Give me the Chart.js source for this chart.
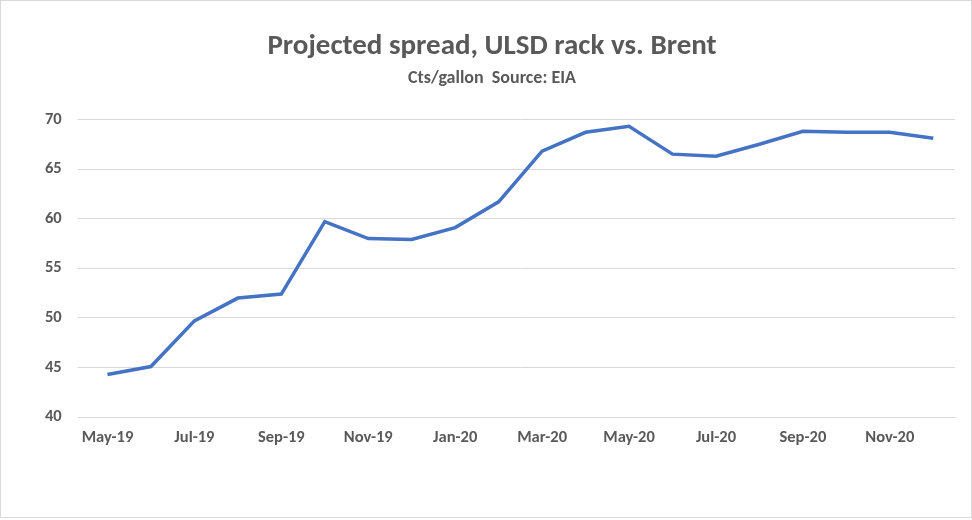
<!DOCTYPE html>
<html><head><meta charset="utf-8">
<script src="https://cdn.jsdelivr.net/npm/chart.js@4"></script>
<style>
html,body{margin:0;padding:0;background:#fff;}
#wrap{position:absolute;left:0;top:0;width:970px;height:516px;border:1px solid #d9d9d9;}
</style></head><body>
<div id="wrap"><canvas id="c"></canvas></div>
<script>
const months = ['May-19','Jun-19','Jul-19','Aug-19','Sep-19','Oct-19','Nov-19','Dec-19','Jan-20','Feb-20',
  'Mar-20','Apr-20','May-20','Jun-20','Jul-20','Aug-20','Sep-20','Oct-20','Nov-20','Dec-20'];
const spread = [44.3,45.1,49.7,52.0,52.4,59.7,58.0,57.9,59.1,61.7,66.8,68.7,69.3,66.5,66.3,67.5,68.8,68.7,68.7,68.1];
const yTicks = [40,45,50,55,60,65,70];

const grey = '#595959';
const font = 'Calibri, Carlito, "Open Sans", sans-serif';
new Chart(document.getElementById('c'), {
  type: 'line',
  data: { labels: months, datasets: [{ data: spread, borderColor: '#4472c4', borderWidth: 3.5, pointRadius: 0, tension: 0, fill: false }] },
  options: {
    responsive: true, maintainAspectRatio: false, animation: false,
    layout: { padding: { left: 28, right: 16, top: 0, bottom: 66 } },
    plugins: {
      legend: { display: false }, tooltip: { enabled: false },
      title: { display: true, text: 'Projected spread, ULSD rack vs. Brent', color: grey,
        font: { family: font, size: 29, weight: 'bold' }, padding: { top: 28, bottom: 4 } },
      subtitle: { display: true, text: 'Cts/gallon  Source: EIA', color: grey,
        font: { family: font, size: 18, weight: 'bold' }, padding: { bottom: 30 } }
    },
    scales: {
      x: { offset: true, grid: { display: false }, border: { color: '#d9d9d9' },
        ticks: { autoSkip: false, maxRotation: 0, color: grey, font: { family: font, size: 16.5, weight: 'bold' },
          callback: (v, i) => i % 2 === 0 ? months[i] : '' } },
      y: { min: 40, max: 70, grid: { color: '#d9d9d9' }, border: { display: false },
        afterBuildTicks: ax => { ax.ticks = yTicks.map(v => ({ value: v })); },
        ticks: { color: grey, padding: 16, font: { family: font, size: 16.5, weight: 'bold' } } }
    }
  }
});
</script></body></html>
